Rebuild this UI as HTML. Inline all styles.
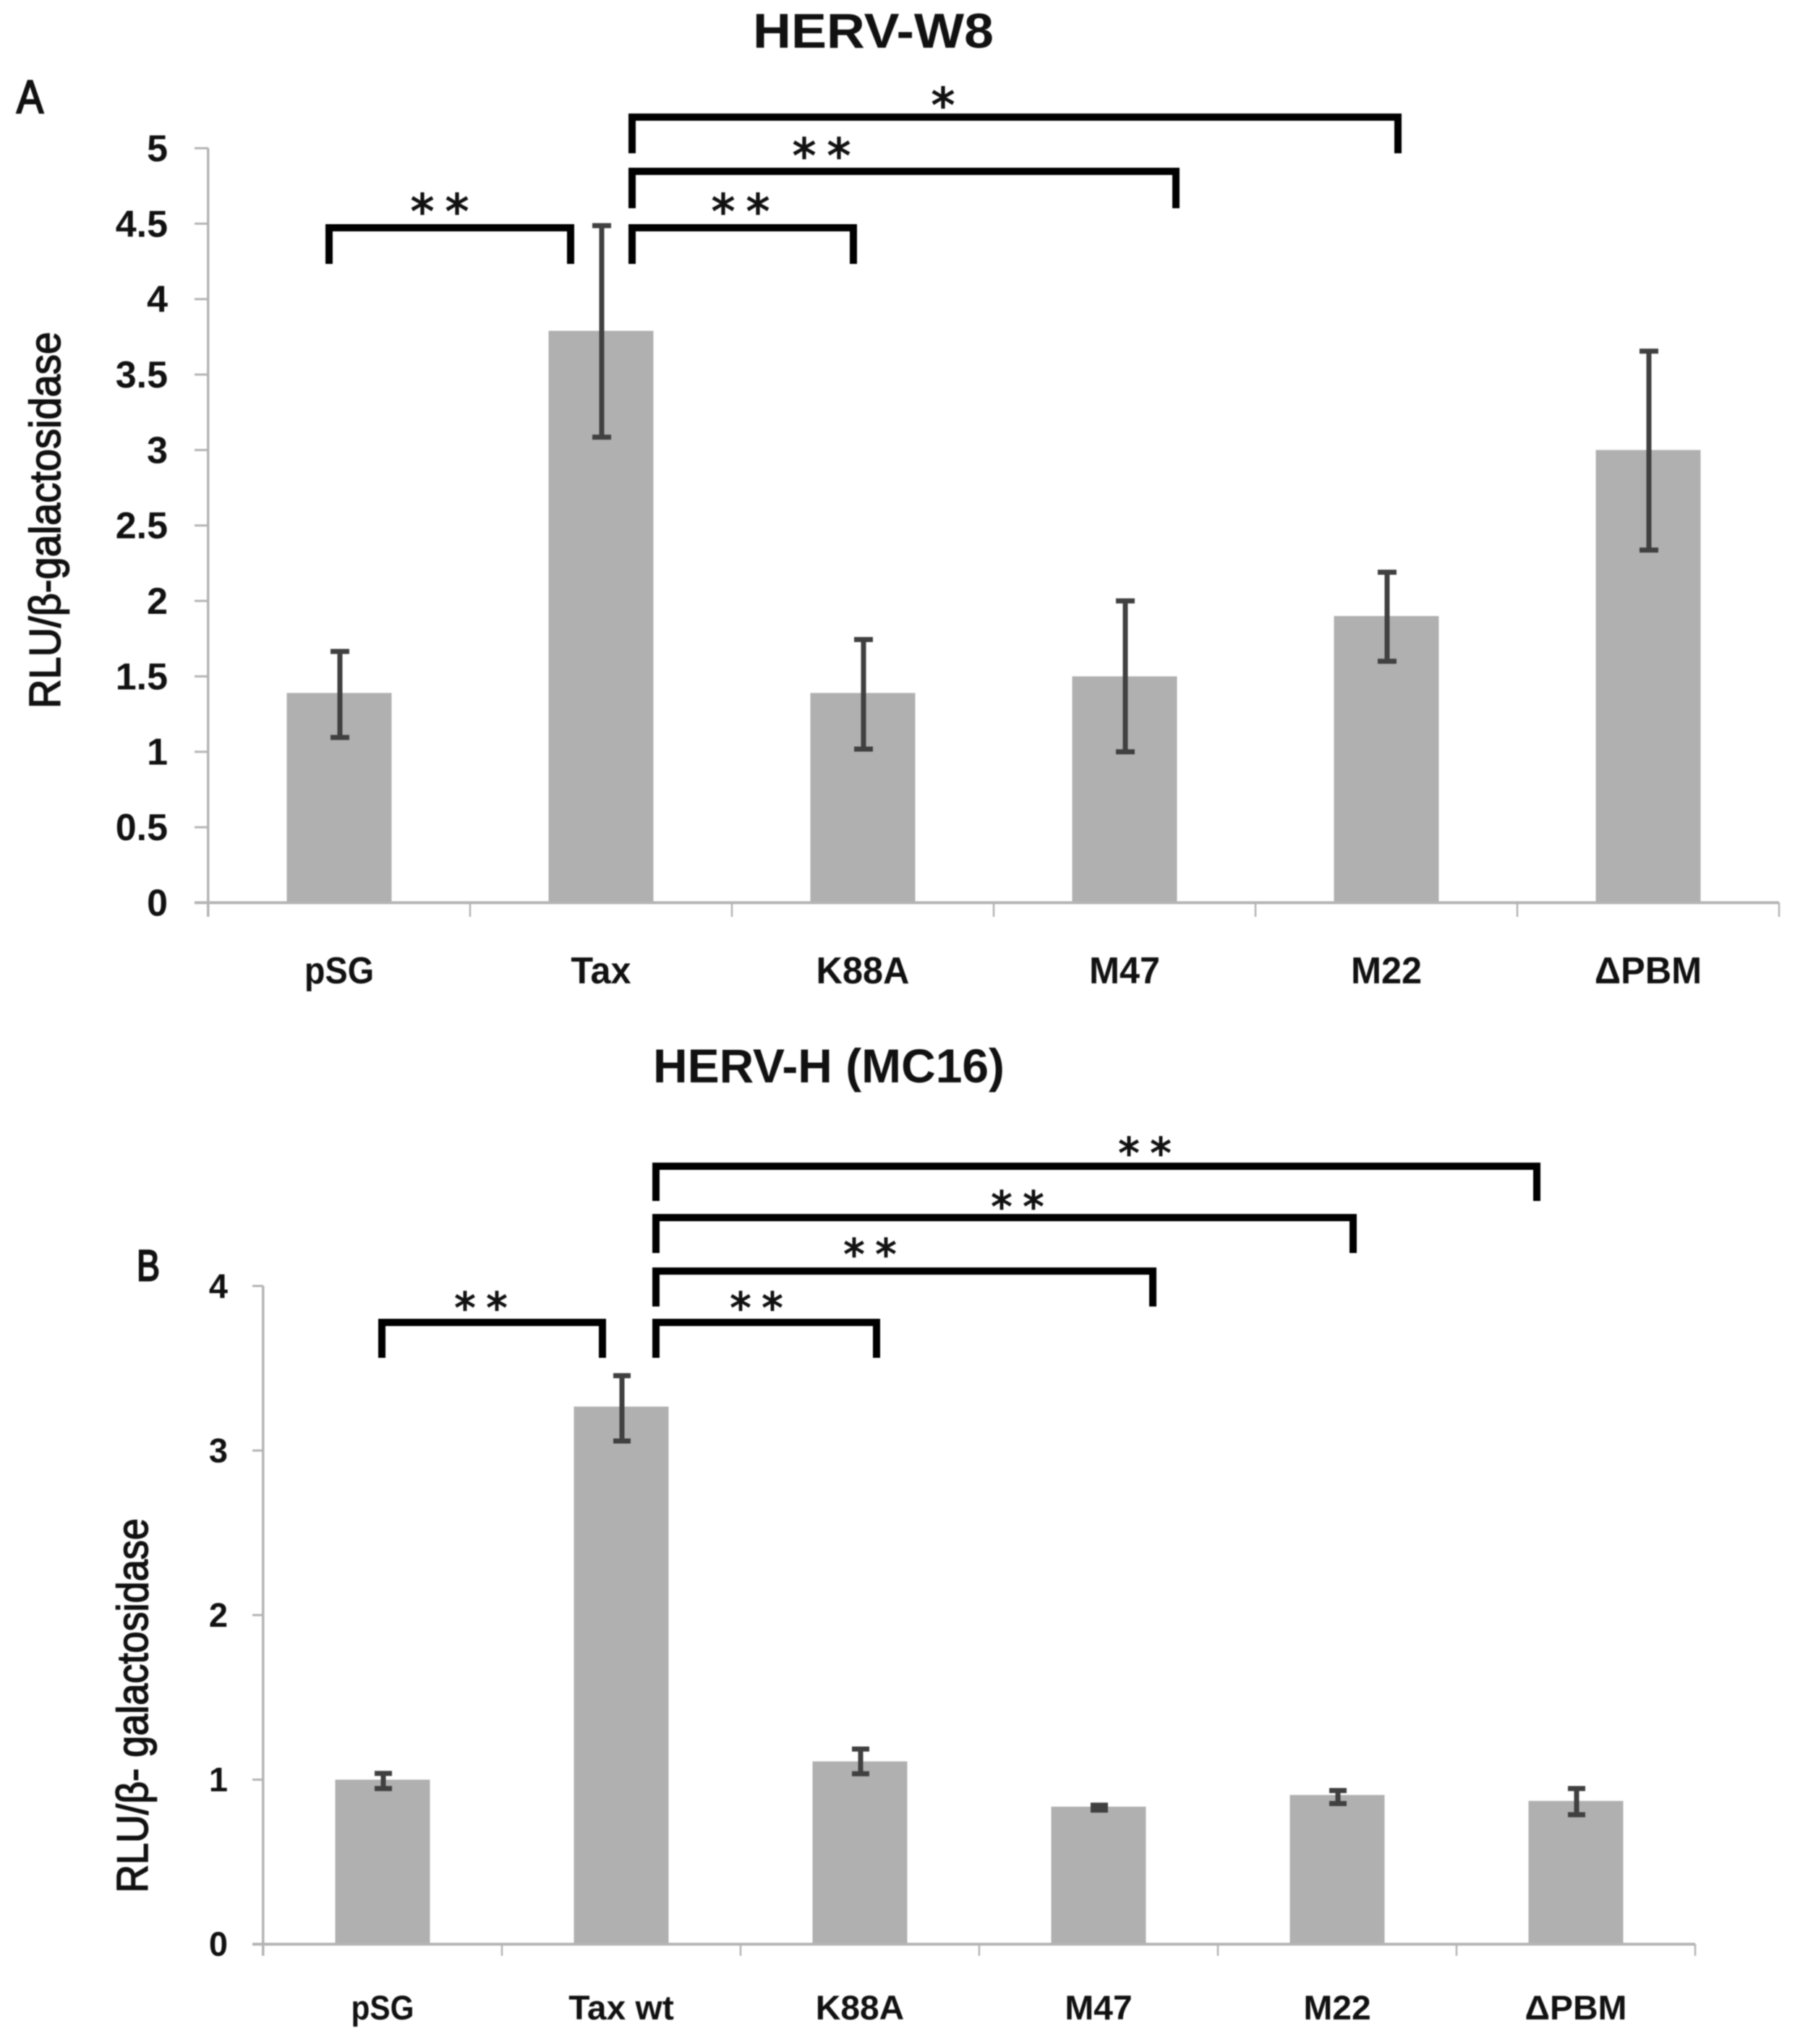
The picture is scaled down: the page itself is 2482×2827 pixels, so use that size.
<!DOCTYPE html>
<html lang="en">
<head>
<meta charset="utf-8">
<title>HERV-W8 and HERV-H (MC16) RLU charts</title>
<style>
html,body{margin:0;padding:0;background:#fff;width:2482px;height:2827px;overflow:hidden}
svg{display:block;filter:blur(0.8px)}
text{font-family:"Liberation Sans",sans-serif;fill:#111}
.bracket{fill:none;stroke:#000;stroke-width:10;stroke-linejoin:miter}
.star{font-family:"DejaVu Sans",sans-serif;fill:#111;stroke:#111;stroke-width:1.6;text-anchor:middle}
</style>
</head>
<body>
<svg id="figure" xmlns="http://www.w3.org/2000/svg" width="2482" height="2827" viewBox="0 0 2482 2827">
  <rect x="0" y="0" width="2482" height="2827" fill="#fff"/>

  <text x="1041" y="66" font-size="68" font-weight="700" textLength="333" lengthAdjust="spacingAndGlyphs">HERV-W8</text>
  <text x="23" y="156" font-size="64" textLength="37" lengthAdjust="spacingAndGlyphs" stroke="#111" stroke-width="2.4">A</text>
  <text transform="translate(83,980) rotate(-90)" font-size="60" textLength="521" lengthAdjust="spacingAndGlyphs" stroke="#111" stroke-width="1.6">RLU/β-galactosidase</text>

  <text x="903" y="1497" font-size="66" font-weight="700" textLength="486" lengthAdjust="spacingAndGlyphs">HERV-H (MC16)</text>
  <text x="189" y="1771" font-size="60" textLength="32" lengthAdjust="spacingAndGlyphs" stroke="#111" stroke-width="2.4">B</text>
  <text transform="translate(204,2618) rotate(-90)" font-size="60" textLength="518" lengthAdjust="spacingAndGlyphs" stroke="#111" stroke-width="1.6">RLU/β- galactosidase</text>

  <g id="chart-a"></g>
  <g id="chart-b"></g>

  <g>
    <path class="bracket" d="M455 365V315H789V365"/>
    <path class="bracket" d="M874 365V315H1180V365"/>
    <path class="bracket" d="M874 288V237H1626V288"/>
    <path class="bracket" d="M874 212V162H1933V212"/>
    <text class="star" x="584 632" y="315" font-size="65">**</text>
    <text class="star" x="1000 1048" y="315" font-size="65">**</text>
    <text class="star" x="1112 1160" y="238" font-size="65">**</text>
    <text class="star" x="1304" y="168" font-size="65">*</text>
  </g>

  <g>
    <path class="bracket" d="M528 1878V1829H833V1878"/>
    <path class="bracket" d="M907 1878V1829H1212V1878"/>
    <path class="bracket" d="M907 1807V1758H1594V1807"/>
    <path class="bracket" d="M907 1733V1684H1871V1733"/>
    <path class="bracket" d="M907 1661V1613H2125V1661"/>
    <text class="star" x="643 687" y="1829" font-size="58">**</text>
    <text class="star" x="1024 1068" y="1829" font-size="58">**</text>
    <text class="star" x="1181 1225" y="1755" font-size="58">**</text>
    <text class="star" x="1385 1429" y="1689" font-size="58">**</text>
    <text class="star" x="1561 1605" y="1615" font-size="58">**</text>
  </g>
</svg>
<script>
var categoriesA = ['pSG', 'Tax', 'K88A', 'M47', 'M22', 'ΔPBM'];
var valuesA = [1.39, 3.79, 1.39, 1.5, 1.9, 3.0];
var errHighA = [1.665, 4.487, 1.744, 2.0, 2.19, 3.655];
var errLowA = [1.095, 3.085, 1.018, 1.0, 1.6, 2.337];
var tickLabelsA = ['0', '0.5', '1', '1.5', '2', '2.5', '3', '3.5', '4', '4.5', '5'];

var categoriesB = ['pSG', 'Tax wt', 'K88A', 'M47', 'M22', 'ΔPBM'];
var valuesB = [1.0, 3.267, 1.111, 0.836, 0.907, 0.871];
var errHighB = [1.038, 3.455, 1.186, 0.845, 0.934, 0.946];
var errLowB = [0.946, 3.058, 1.036, 0.815, 0.855, 0.787];
var tickLabelsB = ['0', '1', '2', '3', '4'];

var SVG_NS = 'http://www.w3.org/2000/svg';

function rect(parent, x, y, w, h, fill, name) {
  var el = document.createElementNS(SVG_NS, 'rect');
  el.setAttribute('x', x);
  el.setAttribute('y', y);
  el.setAttribute('width', w);
  el.setAttribute('height', h);
  el.setAttribute('fill', fill);
  
  
  parent.appendChild(el);
  return el;
}

function label(parent, x, y, str, size, anchor, scaleX, name) {
  var el = document.createElementNS(SVG_NS, 'text');
  el.setAttribute('transform', 'translate(' + x + ',' + y + ') scale(' + scaleX + ',1)');
  el.setAttribute('font-size', size);
  el.setAttribute('font-weight', '700');
  el.setAttribute('text-anchor', anchor);
  el.textContent = str;
  
  
  parent.appendChild(el);
  return el;
}

function drawChart(opts, categories, values, errHigh, errLow, tickLabels) {
  var g = document.getElementById(opts.id);
  var yMax = Number(tickLabels[tickLabels.length - 1]);
  var yScale = function (v) {
    return opts.y0 - (opts.y0 - opts.yTop) * v / yMax;
  };
  var band = (opts.xRight - opts.x0) / categories.length;
  var xScale = function (i) {
    return opts.x0 + band * (i + 0.5);
  };
  var axisColor = '#b4b4b4';

  categories.forEach(function (cat, i) {
    var top = yScale(values[i]);
    rect(g, xScale(i) - opts.barWidth / 2, top, opts.barWidth, opts.y0 - top, '#b0b0b0', 'bar-' + cat);
  });

  rect(g, opts.x0 - 2, opts.yTop, 3.5, opts.tickBottom - opts.yTop, axisColor, 'y-axis-line');
  rect(g, opts.tickLeft, opts.y0 - 2, opts.xRight - opts.tickLeft, 4, axisColor, 'x-axis-line');

  tickLabels.forEach(function (t) {
    var y = yScale(Number(t));
    rect(g, opts.tickLeft, y - 1.5, opts.x0 - opts.tickLeft, 3, axisColor, 'y-tick-' + t);
    label(g, opts.labelRight, y + opts.tickFont * 0.345, t, opts.tickFont, 'end', 1, 'y-tick-label-' + t);
  });

  for (var k = 1; k <= categories.length; k++) {
    rect(g, opts.x0 + band * k - 1.25, opts.y0, 2.5, opts.tickBottom - opts.y0, axisColor, 'x-tick-' + k);
  }

  categories.forEach(function (cat, i) {
    var cx = xScale(i) + 1;
    var hi = yScale(errHigh[i]);
    var lo = yScale(errLow[i]);
    rect(g, cx - 3.5, hi, 7, lo - hi, '#404040', 'error-bar-' + cat);
    rect(g, cx - opts.capWidth / 2, hi - 3.5, opts.capWidth, 7, '#404040', 'error-cap-high-' + cat);
    rect(g, cx - opts.capWidth / 2, lo - 3.5, opts.capWidth, 7, '#404040', 'error-cap-low-' + cat);
    var sx = cat === 'pSG' ? 0.9 : opts.catScale;
    label(g, xScale(i), opts.catBaseline, cat, opts.tickFont, 'middle', sx, 'x-label-' + cat);
  });
}

drawChart({
  id: 'chart-a', x0: 288, xRight: 2460, y0: 1248.5, yTop: 205, barWidth: 145, catScale: 0.97,
  tickLeft: 269, tickBottom: 1268, labelRight: 232, tickFont: 52, catBaseline: 1360, capWidth: 26
}, categoriesA, valuesA, errHighA, errLowA, tickLabelsA);

drawChart({
  id: 'chart-b', x0: 364, xRight: 2344, y0: 2689, yTop: 1778.6, barWidth: 131, catScale: 1.02,
  tickLeft: 349, tickBottom: 2705, labelRight: 315, tickFont: 47, catBaseline: 2793, capWidth: 24
}, categoriesB, valuesB, errHighB, errLowB, tickLabelsB);
</script>
</body>
</html>
